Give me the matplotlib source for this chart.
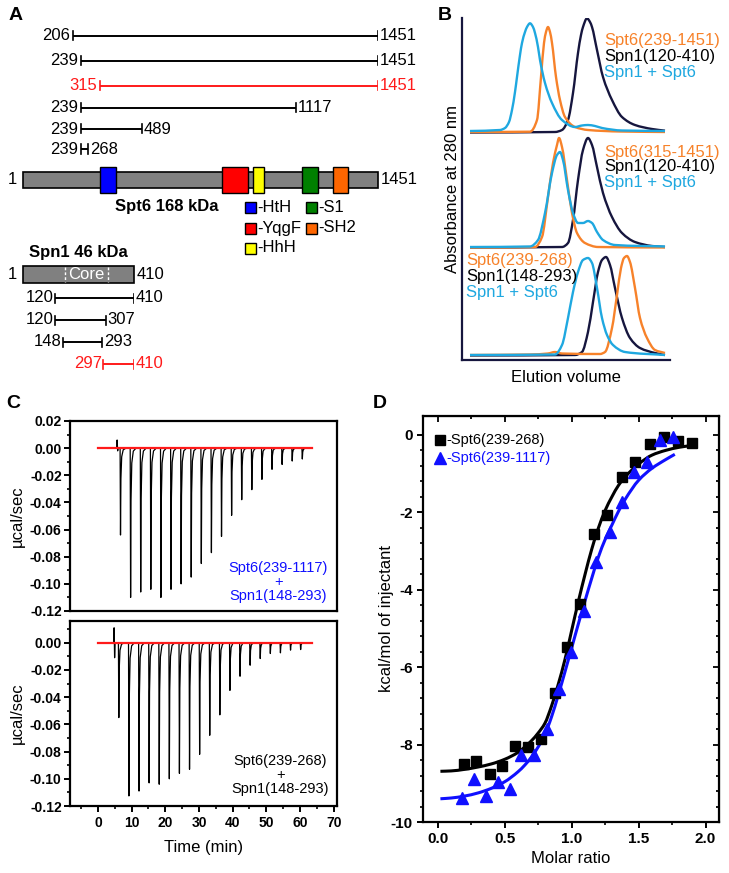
import numpy as np
import matplotlib
matplotlib.use('Agg')
import matplotlib.pyplot as plt
from matplotlib.patches import Rectangle, PathPatch
from matplotlib.path import Path

plt.rcParams['font.family'] = ['Liberation Sans', 'DejaVu Sans']

W, H = 729, 873
DPI = 100

# ---------------- Panel A data ----------------
spt6_start = [206, 239, 315, 239, 239, 239]
spt6_end = [1451, 1451, 1451, 1117, 489, 268]
spt6_red = [False, False, True, False, False, False]
spt6_length = 1451
domain_names = ['HtH', 'YqgF', 'HhH', 'S1', 'SH2']
domain_start = [315, 815, 940, 1140, 1266]
domain_end = [380, 918, 985, 1205, 1328]
domain_colors = ['#0000ff', '#ff0000', '#ffff00', '#008000', '#ff6600']

spn1_length = 410
spn1_core = [155, 313]
spn1_start = [120, 120, 148, 297]
spn1_end = [410, 307, 293, 410]
spn1_red = [False, False, False, True]

# ---------------- Panel B data (elution volume, absorbance; arbitrary units) ----------------
b_labels = [['Spt6(239-1451)', 'Spn1(120-410)', 'Spn1 + Spt6'],
            ['Spt6(315-1451)', 'Spn1(120-410)', 'Spn1 + Spt6'],
            ['Spt6(239-268)', 'Spn1(148-293)', 'Spn1 + Spt6']]

top_spt6_x = [8, 68, 75, 79, 82, 84, 86, 88, 90, 94, 98, 103, 113, 126, 158, 203]
top_spt6_y = [0, 0.3, 12, 55, 89, 100, 105, 100, 89, 55, 32, 15, 5, 2, 0.5, 0]
top_spn1_x = [8, 93, 100, 106, 111, 116, 119, 121, 125, 128, 130, 135, 141, 150, 160, 173, 190, 203]
top_spn1_y = [-0.5, 0, 2, 12, 39, 79, 97, 105, 113.7, 110, 105, 82, 55, 32, 15, 7, 3, 1.3]
top_mix_x = [8, 38, 43, 47, 50, 53, 55, 58, 60, 63, 65, 68, 71, 73, 76, 78, 83, 90, 100, 113, 120, 126, 133, 140, 160, 203]
top_mix_y = [1, 2, 4, 10, 22, 40, 55, 77, 89, 100, 105, 108.7, 105, 99, 85, 72, 49, 29, 12, 5, 6.5, 7, 6, 4, 1.5, 1]

mid_spt6_x = [8, 73, 80, 86, 91, 95, 97, 100, 105, 110, 115, 123, 136, 203]
mid_spt6_y = [0, 0.5, 10.5, 50.5, 84.5, 102.5, 109.5, 100.5, 67.5, 34.5, 14.5, 4.5, 0.5, 0]
mid_spn1_x = [8, 100, 106, 111, 116, 121, 126, 130, 135, 141, 150, 160, 173, 190, 203]
mid_spn1_y = [0, 0.5, 4.5, 27.5, 67.5, 97.5, 109.5, 102.5, 80.5, 54.5, 30.5, 14.5, 5.5, 1.5, 0.5]
mid_mix_x = [8, 68, 76, 83, 90, 95, 98, 101, 106, 111, 116, 121, 126, 130, 135, 141, 153, 203]
mid_mix_y = [0.5, 1, 7.5, 34.5, 74.5, 92.5, 95.5, 87.5, 57.5, 34.5, 24.5, 24.5, 26.5, 24.5, 15.5, 7.5, 2.5, 1]

bot_spt6_x = [8, 68, 86, 93, 100, 138, 143, 150, 155, 159, 162, 165, 168, 173, 178, 185, 193, 203]
bot_spt6_y = [0, 0.5, 1.5, 3, 1.5, 1, 3, 27, 60, 87, 97, 99, 93, 67, 37, 17, 5, 2]
bot_spn1_x = [8, 113, 120, 126, 131, 136, 140, 144, 148, 153, 160, 168, 178, 193, 203]
bot_spn1_y = [-0.5, 0, 3, 23, 53, 83, 95, 98, 90, 67, 37, 17, 7, 2, 0]
bot_mix_x = [8, 93, 100, 106, 111, 116, 121, 126, 130, 135, 140, 145, 151, 163, 203]
bot_mix_y = [0, 0.5, 10, 37, 63, 83, 95, 97, 92, 67, 37, 20, 10, 3, 0]

# ---------------- Panel C data ----------------
c_top_times = [6.7, 9.7, 12.7, 15.7, 18.7, 21.7, 24.7, 27.7, 30.7, 33.7, 36.7, 39.7,
               42.7, 45.7, 48.7, 51.7, 54.7, 57.7, 60.7]
c_top_depth = [-0.064, -0.110, -0.106, -0.104, -0.110, -0.104, -0.100, -0.095, -0.085,
               -0.077, -0.065, -0.0495, -0.038, -0.0306, -0.023, -0.0156, -0.012, -0.0095, -0.008]
c_bot_times = [6.2, 9.2, 12.2, 15.2, 18.2, 21.2, 24.2, 27.2, 30.2, 33.2, 36.2, 39.2,
               42.2, 45.2, 48.2, 51.2, 54.2, 57.2, 60.2]
c_bot_depth = [-0.055, -0.1126, -0.109, -0.103, -0.104, -0.100, -0.096, -0.093, -0.082,
               -0.068, -0.053, -0.035, -0.0246, -0.0165, -0.0116, -0.0079, -0.0074, -0.0054, -0.005]
c_top_blip = [5.7, 0.006, -0.002]
c_bot_blip = [4.8, 0.011, -0.011]
c_trace_range = [0.6, 63.3]
c_fit_range = [0.0, 63.5]

# ---------------- Panel D data ----------------
d_sq_x = [0.195, 0.287, 0.387, 0.479, 0.574, 0.673, 0.768, 0.873, 0.968, 1.065, 1.167,
          1.267, 1.377, 1.476, 1.584, 1.688, 1.796, 1.900]
d_sq_y = [-8.50, -8.43, -8.77, -8.56, -8.04, -8.06, -7.85, -6.67, -5.47, -4.38, -2.55,
          -2.06, -1.08, -0.69, -0.23, -0.06, -0.15, -0.20]
d_tri_x = [0.180, 0.274, 0.362, 0.449, 0.541, 0.623, 0.718, 0.815, 0.903, 0.998, 1.090,
           1.185, 1.284, 1.379, 1.466, 1.564, 1.658, 1.758]
d_tri_y = [-9.38, -8.89, -9.33, -8.97, -9.15, -8.28, -8.28, -7.61, -6.57, -5.62, -4.55,
           -3.28, -2.51, -1.73, -0.95, -0.71, -0.13, -0.06]
d_fitk_x = [0.02, 0.1, 0.2, 0.3, 0.4, 0.5, 0.6, 0.65, 0.7, 0.75, 0.8, 0.85, 0.9, 0.95, 1.0,
            1.05, 1.1, 1.15, 1.2, 1.25, 1.3, 1.35, 1.4, 1.5, 1.6, 1.7, 1.8, 1.9]
d_fitk_y = [-8.69, -8.68, -8.64, -8.58, -8.5, -8.38, -8.2, -8.06, -7.9, -7.7, -7.45, -7.0,
            -6.44, -5.8, -5.05, -4.3, -3.6, -2.95, -2.4, -1.95, -1.6, -1.3, -1.08, -0.75,
            -0.52, -0.4, -0.32, -0.27]
d_fitb_x = [0.02, 0.1, 0.2, 0.3, 0.4, 0.5, 0.6, 0.65, 0.7, 0.75, 0.8, 0.85, 0.9, 0.95, 1.0,
            1.05, 1.1, 1.15, 1.2, 1.25, 1.3, 1.35, 1.4, 1.5, 1.6, 1.7, 1.77]
d_fitb_y = [-9.4, -9.38, -9.33, -9.25, -9.13, -8.96, -8.7, -8.53, -8.32, -8.06, -7.74,
            -7.28, -6.72, -6.12, -5.5, -4.88, -4.28, -3.7, -3.15, -2.7, -2.33, -1.97,
            -1.66, -1.17, -0.86, -0.64, -0.5]
d_labels = ['-Spt6(239-268)', '-Spt6(239-1117)']

# ---------------- colours ----------------
ORANGE = '#f7822a'
CYAN = '#1fa8e0'
NAVY = '#16163e'
BLUE = '#1010ff'
RED = '#ff1a1a'


def rect(x0, y0, x1, y1):
    return [x0 / W, 1 - y1 / H, (x1 - x0) / W, (y1 - y0) / H]


def smooth_path(xs, ys):
    """Monotone cubic Bezier path drawn through the given points."""
    x = np.asarray(xs, float)
    y = np.asarray(ys, float)
    h = np.diff(x)
    d = np.diff(y) / h
    n = len(x)
    m = np.zeros(n)
    m[0], m[-1] = d[0], d[-1]
    for k in range(1, n - 1):
        if d[k - 1] * d[k] <= 0:
            m[k] = 0.0
        else:
            w1 = 2 * h[k] + h[k - 1]
            w2 = h[k] + 2 * h[k - 1]
            m[k] = (w1 + w2) / (w1 / d[k - 1] + w2 / d[k])
    verts = [(x[0], y[0])]
    codes = [Path.MOVETO]
    for k in range(n - 1):
        verts += [(x[k] + h[k] / 3, y[k] + m[k] * h[k] / 3),
                  (x[k + 1] - h[k] / 3, y[k + 1] - m[k + 1] * h[k] / 3),
                  (x[k + 1], y[k + 1])]
        codes += [Path.CURVE4] * 3
    return Path(verts, codes)


fig = plt.figure(figsize=(W / DPI, H / DPI), dpi=DPI)

# overlay in pixel coordinates for free text
ov = fig.add_axes([0, 0, 1, 1])
ov.set_xlim(0, W)
ov.set_ylim(H, 0)
ov.axis('off')
ov.set_zorder(10)
ov.patch.set_visible(False)

for lab, (x, y) in zip('ABCD', [(16, 15), (445, 15), (13, 403), (380, 403)]):
    ov.text(x, y, lab, fontsize=14, fontweight='bold', ha='center', va='center')

# ================= Panel A =================
axA = fig.add_axes(rect(23, 20, 378, 200))
axA.set_xlim(1, spt6_length)
axA.set_ylim(200, 20)
axA.axis('off')
rows_y = [36, 61, 86, 108, 129, 149]
for s, e, red, y in zip(spt6_start, spt6_end, spt6_red, rows_y):
    col = RED if red else 'black'
    axA.plot([s, e], [y, y], color=col, lw=1.4, solid_capstyle='butt')
    axA.plot([s, s], [y - 4.5, y + 4.5], color=col, lw=1.2)
    axA.plot([e, e], [y - 4.5, y + 4.5], color=col, lw=1.2)
    axA.annotate(str(s), (s, y), xytext=(-2, 0), textcoords='offset points',
                 ha='right', va='center', fontsize=12, color=col, annotation_clip=False)
    axA.annotate(str(e), (e, y), xytext=(1, 0), textcoords='offset points',
                 ha='left', va='center', fontsize=12, color=col, annotation_clip=False)

axA.add_patch(Rectangle((1, 172), spt6_length - 1, 16, facecolor='#808080',
                        edgecolor='black', lw=1.2, clip_on=False))
for s, e, c in zip(domain_start, domain_end, domain_colors):
    axA.add_patch(Rectangle((s, 167), e - s, 26, facecolor=c, edgecolor='black',
                            lw=1.0, clip_on=False, zorder=3))
axA.annotate('1', (1, 180), xytext=(-4, 0), textcoords='offset points', ha='right',
             va='center', fontsize=12, annotation_clip=False)
axA.annotate(str(spt6_length), (spt6_length, 180), xytext=(2, 0), textcoords='offset points',
             ha='left', va='center', fontsize=12, annotation_clip=False)

ov.text(167, 207, 'Spt6 168 kDa', fontsize=12, fontweight='bold', ha='center', va='center')
leg_pos = [(251, 207), (251, 228), (251, 248), (312, 207), (312, 228)]
for (x, y), name, c in zip(leg_pos, domain_names, domain_colors):
    ov.add_patch(Rectangle((x - 5.5, y - 5.5), 11, 11, facecolor=c, edgecolor='black', lw=1.0))
    ov.text(x + 6, y, '-' + name, fontsize=12, ha='left', va='center')

# Spn1
axS = fig.add_axes(rect(23, 250, 134, 375))
axS.set_xlim(1, spn1_length)
axS.set_ylim(375, 250)
axS.axis('off')
ov.text(78, 253, 'Spn1 46 kDa', fontsize=12, fontweight='bold', ha='center', va='center')
axS.add_patch(Rectangle((1, 266), spn1_length - 1, 17, facecolor='#808080',
                        edgecolor='black', lw=1.2, clip_on=False))
for cx in spn1_core:
    axS.plot([cx, cx], [267, 282], color='white', lw=1.0, ls=(0, (2, 1.5)))
axS.text(np.mean(spn1_core), 274.5, 'Core', color='white', fontsize=12, ha='center', va='center')
axS.annotate('1', (1, 274.5), xytext=(-4, 0), textcoords='offset points', ha='right',
             va='center', fontsize=12, annotation_clip=False)
axS.annotate(str(spn1_length), (spn1_length, 274.5), xytext=(2, 0), textcoords='offset points',
             ha='left', va='center', fontsize=12, annotation_clip=False)
spn_rows = [298, 320, 342, 364]
for s, e, red, y in zip(spn1_start, spn1_end, spn1_red, spn_rows):
    col = RED if red else 'black'
    axS.plot([s, e], [y, y], color=col, lw=1.4, solid_capstyle='butt')
    axS.plot([s, s], [y - 4.5, y + 4.5], color=col, lw=1.2)
    axS.plot([e, e], [y - 4.5, y + 4.5], color=col, lw=1.2)
    axS.annotate(str(s), (s, y), xytext=(-1, 0), textcoords='offset points',
                 ha='right', va='center', fontsize=12, color=col, annotation_clip=False)
    axS.annotate(str(e), (e, y), xytext=(1, 0), textcoords='offset points',
                 ha='left', va='center', fontsize=12, color=col, annotation_clip=False)

# ================= Panel B =================
axB = fig.add_axes(rect(462, 18, 670, 360))
axB.set_xlim(0, 208)
axB.set_ylim(0, 342)
axB.patch.set_visible(False)
for sp in ['top', 'right']:
    axB.spines[sp].set_visible(False)
for sp in ['left', 'bottom']:
    axB.spines[sp].set_color(NAVY)
    axB.spines[sp].set_linewidth(1.6)
axB.set_xticks([])
axB.set_yticks([])
axB.set_xlabel('Elution volume', fontsize=12, labelpad=7)
axB.set_ylabel('Absorbance at 280 nm', fontsize=12)
axB.yaxis.set_label_coords(-0.01, 0.5)

offsets = [228, 112.5, 5]
traces = [
    [(top_spn1_x, top_spn1_y), (top_spt6_x, top_spt6_y), (top_mix_x, top_mix_y)],
    [(mid_spn1_x, mid_spn1_y), (mid_spt6_x, mid_spt6_y), (mid_mix_x, mid_mix_y)],
    [(bot_spn1_x, bot_spn1_y), (bot_spt6_x, bot_spt6_y), (bot_mix_x, bot_mix_y)],
]
for off, grp in zip(offsets, traces):
    for (xs, ys), c in zip(grp, [NAVY, ORANGE, CYAN]):
        axB.add_patch(PathPatch(smooth_path(xs, np.array(ys) + off), fill=False,
                                edgecolor=c, lw=1.7, joinstyle='round'))

b_text_pos = [(604, [40, 57, 73]), (604, [152, 167, 182]), (466, [260, 276, 293])]
for (x, ys), labs in zip(b_text_pos, b_labels):
    for y, t, c in zip(ys, labs, [ORANGE, 'black', CYAN]):
        ov.text(x, y, t, fontsize=12, color=c, ha='left', va='center')


# ================= Panel C =================
spike_dt = [-0.12, 0.0, 0.12, 0.35, 0.8, 1.6]
spike_frac = [0.0, 1.0, 0.35, 0.1, 0.02, 0.0]


def itc_trace(times, depths, blip):
    t = [c_trace_range[0], blip[0] - 0.1, blip[0], blip[0] + 0.15, blip[0] + 0.3]
    y = [0.0, 0.0, blip[1], blip[2], 0.0]
    for ti, di in zip(times, depths):
        for dt, f in zip(spike_dt, spike_frac):
            t.append(ti + dt)
            y.append(di * f)
    t.append(c_trace_range[1])
    y.append(0.0)
    return t, y


def style_c(ax, top_lim, show_x):
    ax.set_xlim(-8.3, 71)
    ax.set_ylim(-0.12, top_lim)
    for sp in ax.spines.values():
        sp.set_linewidth(1.6)
    yt = [v for v in [0.02, 0.0, -0.02, -0.04, -0.06, -0.08, -0.10, -0.12] if v <= top_lim + 1e-9]
    ax.set_yticks(yt)
    ax.set_yticklabels(['%.2f' % v if v != 0 else '0.00' for v in yt], fontsize=10, fontweight='bold')
    ax.set_yticks([-0.11, -0.09, -0.07, -0.05, -0.03, -0.01, 0.01], minor=True)
    ax.tick_params(axis='y', which='major', direction='out', length=4, width=1.4, pad=2)
    ax.tick_params(axis='y', which='minor', direction='out', length=2.5, width=1.2)
    if show_x:
        xt = [0, 10, 20, 30, 40, 50, 60, 70]
        ax.set_xticks(xt)
        ax.set_xticklabels([str(v) for v in xt], fontsize=10, fontweight='bold')
        ax.set_xticks([-5, 5, 15, 25, 35, 45, 55, 65], minor=True)
        ax.tick_params(axis='x', which='major', direction='out', length=4, width=1.4, pad=3)
        ax.tick_params(axis='x', which='minor', direction='out', length=2.5, width=1.2)
    else:
        ax.set_xticks([])
    ax.set_ylabel('µcal/sec', fontsize=12)
    ax.yaxis.set_label_coords(-0.17, 0.5)


axC1 = fig.add_axes(rect(70, 421, 337, 611))
style_c(axC1, 0.02, False)
tt, yy = itc_trace(c_top_times, c_top_depth, c_top_blip)
axC1.plot(tt, yy, color='black', lw=0.9)
axC1.plot(c_fit_range, [0, 0], color=RED, lw=1.6)
axC1.text(0.78, 0.155, 'Spt6(239-1117)\n+\nSpn1(148-293)', transform=axC1.transAxes,
          ha='center', va='center', fontsize=10.5, color=BLUE, linespacing=1.0)

axC2 = fig.add_axes(rect(70, 621, 337, 806))
style_c(axC2, 0.016, True)
tt, yy = itc_trace(c_bot_times, c_bot_depth, c_bot_blip)
axC2.plot(tt, yy, color='black', lw=0.9)
axC2.plot(c_fit_range, [0, 0], color=RED, lw=1.6)
axC2.text(0.787, 0.168, 'Spt6(239-268)\n+\nSpn1(148-293)', transform=axC2.transAxes,
          ha='center', va='center', fontsize=10.5, color='black', linespacing=1.0)
axC2.set_xlabel('Time (min)', fontsize=12)
axC2.xaxis.set_label_coords(0.5, -0.184)

# ================= Panel D =================
axD = fig.add_axes(rect(423, 416, 719, 822))
axD.set_xlim(-0.11, 2.1)
axD.set_ylim(-10, 0.49)
for sp in axD.spines.values():
    sp.set_linewidth(1.6)
xt = [0.0, 0.5, 1.0, 1.5, 2.0]
xmin = [0.25, 0.75, 1.25, 1.75]
yt = [-10, -8, -6, -4, -2, 0]
ymin = [v for v in np.arange(-9.6, 0.4, 0.4) if abs(v / 2 - round(v / 2)) > 1e-6]
axD.set_xticks(xt)
axD.set_xticklabels(['%.1f' % v for v in xt], fontsize=11, fontweight='bold')
axD.set_xticks(xmin, minor=True)
axD.set_yticks(yt)
axD.set_yticklabels([str(v) for v in yt], fontsize=11, fontweight='bold')
axD.set_yticks(ymin, minor=True)
axD.tick_params(which='major', direction='out', length=4.5, width=1.4, pad=3)
axD.tick_params(which='minor', direction='out', length=2.5, width=1.2)
secx = axD.secondary_xaxis('top')
secx.set_xticks(xt)
secx.set_xticks(xmin, minor=True)
secx.tick_params(which='both', direction='in', labeltop=False, width=1.3)
secx.tick_params(which='major', length=4.5)
secx.tick_params(which='minor', length=2.5)
secy = axD.secondary_yaxis('right')
secy.set_yticks(yt)
secy.set_yticks(ymin, minor=True)
secy.tick_params(which='both', direction='in', labelright=False, width=1.3)
secy.tick_params(which='major', length=4.5)
secy.tick_params(which='minor', length=2.5)

axD.add_patch(PathPatch(smooth_path(d_fitk_x, d_fitk_y), fill=False, edgecolor='black',
                        lw=2.2, zorder=2))
axD.add_patch(PathPatch(smooth_path(d_fitb_x, d_fitb_y), fill=False, edgecolor=BLUE,
                        lw=2.2, zorder=2))
axD.plot(d_sq_x, d_sq_y, 's', color='black', ms=7, zorder=3, ls='none')
axD.plot(d_tri_x, d_tri_y, '^', color=BLUE, ms=8, zorder=3, ls='none')
axD.set_xlabel('Molar ratio', fontsize=12)
axD.xaxis.set_label_coords(0.5, -0.071)
axD.set_ylabel('kcal/mol of injectant', fontsize=12)
axD.yaxis.set_label_coords(-0.098, 0.5)

axD.plot([0.057], [0.941], 's', color='black', ms=7, transform=axD.transAxes)
axD.text(0.08, 0.941, d_labels[0], transform=axD.transAxes, fontsize=10.5,
         ha='left', va='center', color='black')
axD.plot([0.057], [0.897], '^', color=BLUE, ms=8, transform=axD.transAxes)
axD.text(0.08, 0.897, d_labels[1], transform=axD.transAxes, fontsize=10.5,
         ha='left', va='center', color=BLUE)

fig.savefig('out.png', dpi=DPI)
